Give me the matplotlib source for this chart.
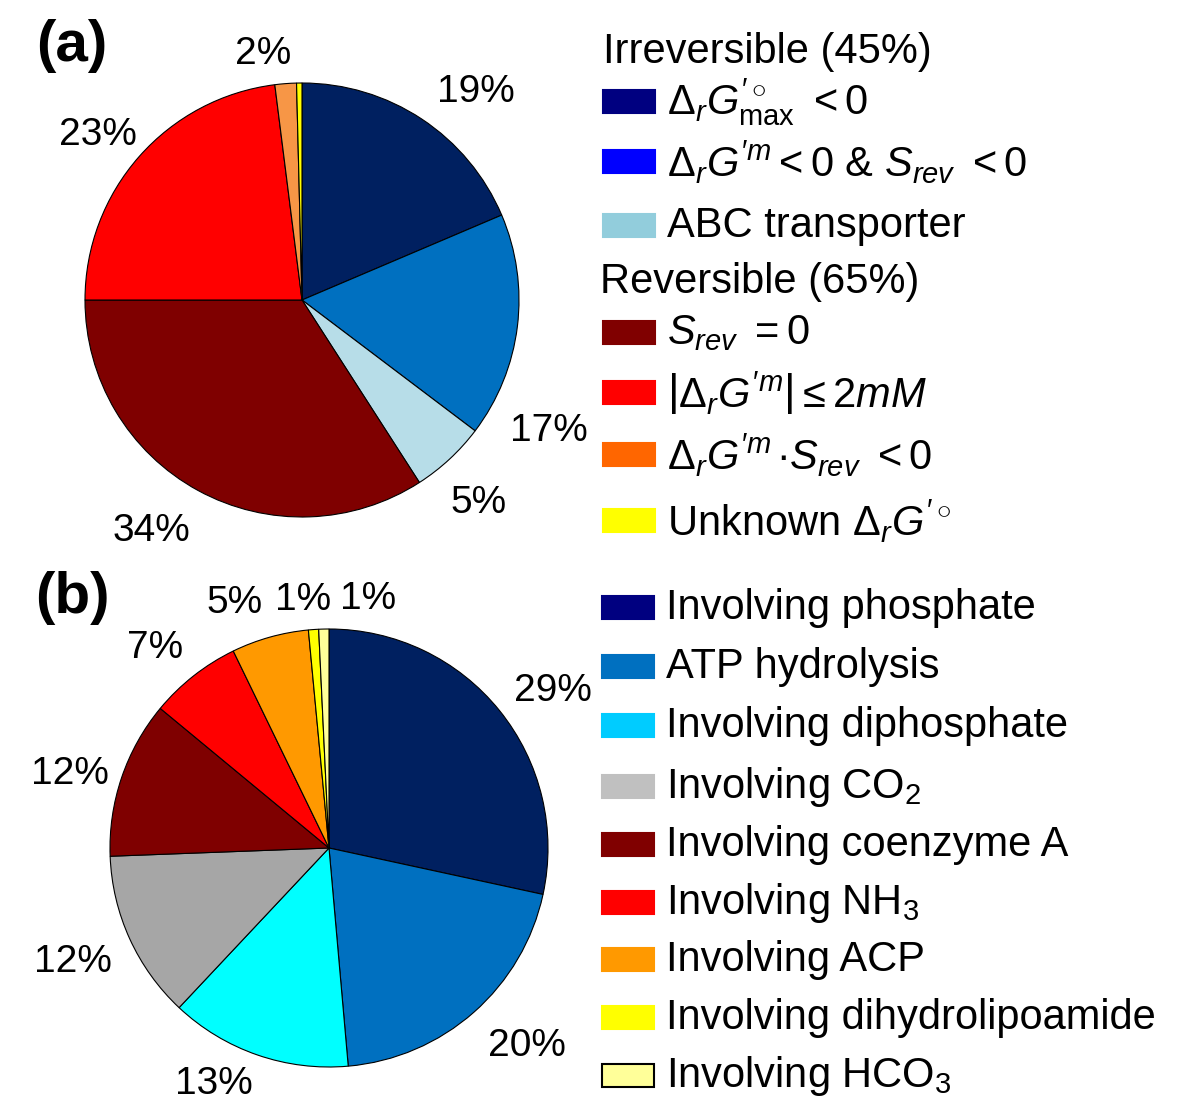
import numpy as np
import matplotlib
matplotlib.use("Agg")
import matplotlib.pyplot as plt
from matplotlib.patches import Rectangle

plt.rcParams['font.family'] = ['Liberation Sans', 'DejaVu Sans']
plt.rcParams['mathtext.fontset'] = 'custom'
plt.rcParams['mathtext.rm'] = 'Liberation Sans'
plt.rcParams['mathtext.it'] = 'Liberation Sans:italic'
plt.rcParams['mathtext.sf'] = 'Liberation Sans'

# Data -- panel (a)
a_values = [18.6, 16.7, 5.6, 34.1, 23.0, 1.6, 0.4]
a_labels = ["19%", "17%", "5%", "34%", "23%", "2%", ""]
a_colors = ["#002060", "#0070C0", "#B7DDE8", "#7F0000", "#FF0000", "#F79646", "#FFFF00"]

a_leg_heads = ["Irreversible (45%)", "Reversible (65%)"]
a_leg_text = [r"$\Delta_r G^{\prime\circ}_{\mathrm{max}}\ < 0$",
              r"$\Delta_r G^{\prime m} < 0$ & $S_{rev}\ < 0$",
              "ABC transporter",
              r"$S_{rev}\ = 0$",
              r"$\left|\Delta_r G^{\prime m}\right| \leq 2mM$",
              r"$\Delta_r G^{\prime m}\,{\bullet}S_{rev}\ < 0$",
              r"Unknown $\Delta_r G^{\prime\circ}$"]
a_leg_colors = ["#000080", "#0000FF", "#92CDDC", "#800000", "#FF0000", "#FF6600", "#FFFF00"]

# Data -- panel (b)
b_values = [28.4, 20.2, 13.4, 12.4, 11.6, 6.8, 5.7, 0.75, 0.75]
b_labels = ["29%", "20%", "13%", "12%", "12%", "7%", "5%", "1%", "1%"]
b_colors = ["#002060", "#0070C0", "#00FFFF", "#A6A6A6", "#7F0000", "#FF0000",
            "#FF9900", "#FFFF00", "#FFFF99"]
b_leg_text = ["Involving phosphate", "ATP hydrolysis", "Involving diphosphate",
              "Involving CO$_2$", "Involving coenzyme A", "Involving NH$_3$",
              "Involving ACP", "Involving dihydrolipoamide", "Involving HCO$_3$"]
b_leg_colors = ["#000080", "#0070C0", "#00CCFF", "#C0C0C0", "#800000", "#FF0000",
                "#FF9900", "#FFFF00", "#FFFF99"]

# label placement (angle in degrees, distance in radii)
a_lab_pos = [(50, 1.25), (-28, 1.29), (-49, 1.24), (-123, 1.27), (141, 1.21), (99, 1.15), (0, 0)]
b_lab_pos = [(35, 1.25), (-45, 1.28), (-116, 1.2), (-156, 1.28), (164, 1.23),
             (131, 1.21), (111, 1.2), (96, 1.14), (81, 1.15)]

W, H = 1200, 1120
fig = plt.figure(figsize=(12, 11.2), dpi=100)
FS = 28
LFS = 30


def pie_axes(cx, cy, r):
    half = 1.05 * r
    return fig.add_axes([(cx - half) / W, (H - cy - half) / H, 2 * half / W, 2 * half / H])


def draw_pie(ax, values, colors, labels, lab_pos):
    ax.pie(values, colors=colors, startangle=90, counterclock=False, radius=1,
           wedgeprops=dict(edgecolor='black', linewidth=0.8))
    ax.set_xlim(-1.05, 1.05)
    ax.set_ylim(-1.05, 1.05)
    ax.set_aspect('equal')
    ax.axis('off')
    for lab, (ang, d) in zip(labels, lab_pos):
        if lab:
            t = np.deg2rad(ang)
            ax.text(d * np.cos(t), d * np.sin(t), lab, ha='center', va='center', fontsize=FS)


ax_a = pie_axes(302, 300, 217)
draw_pie(ax_a, a_values, a_colors, a_labels, a_lab_pos)
ax_b = pie_axes(329, 848, 219)
draw_pie(ax_b, b_values, b_colors, b_labels, b_lab_pos)

fig.text(72 / W, 1 - 46 / H, "(a)", fontsize=42, fontweight='bold', ha='center', va='center')
fig.text(72 / W, 1 - 598 / H, "(b)", fontsize=42, fontweight='bold', ha='center', va='center')


def legend_item(x, y, color, text, edge=None):
    fig.patches.append(Rectangle(((x) / W, 1 - (y + 11) / H), 52 / W, 23 / H,
                                 transform=fig.transFigure, facecolor=color,
                                 edgecolor=edge if edge else color, linewidth=1.5))
    fig.text((x + 64) / W, 1 - y / H, text, fontsize=LFS, ha='left', va='center')


# legend (a)
fig.text(603 / W, 1 - 52 / H, a_leg_heads[0], fontsize=LFS, ha='left', va='center')
fig.text(600 / W, 1 - 282 / H, a_leg_heads[1], fontsize=LFS, ha='left', va='center')
a_rows = [102, 162, 226, 333, 393, 455, 521]
for y, c, t in zip(a_rows, a_leg_colors, a_leg_text):
    legend_item(603, y, c, t)

# legend (b)
b_rows = [608, 667, 726, 787, 845, 903, 960, 1018, 1076]
for i, (y, c, t) in enumerate(zip(b_rows, b_leg_colors, b_leg_text)):
    legend_item(602, y, c, t, edge='black' if i == len(b_rows) - 1 else None)

fig.savefig("out.png", dpi=100)
